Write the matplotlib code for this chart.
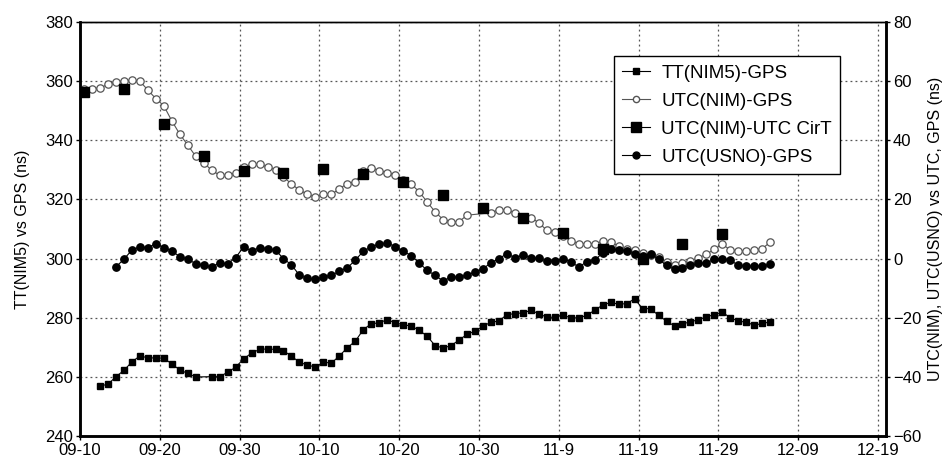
import numpy as np
import matplotlib
matplotlib.use("Agg")
import matplotlib.pyplot as plt

plt.rcParams['font.family'] = ['Liberation Sans', 'DejaVu Sans']

# days counted from 09-10, epochs at noon (+0.5 day)
tick_days = [0, 10, 20, 30, 40, 50, 60, 70, 80, 90, 100]
tick_labels = ['09-10', '09-20', '09-30', '10-10', '10-20', '10-30',
               '11-9', '11-19', '11-29', '12-09', '12-19']

# TT(NIM5)-GPS, left axis (ns)
tt_days = list(range(2, 15)) + list(range(16, 87))
tt_vals = [257.0, 257.5, 260.1, 262.2, 265.1, 267.1, 266.5, 266.4, 266.4, 264.4,
           262.4, 261.2, 260.0,
           260.1, 260.1, 261.6, 263.3, 266.1, 268.1, 269.3, 269.5, 269.3, 268.9,
           267.0, 265.0, 264.0, 263.4, 265.0, 264.7, 267.1, 269.9, 272.1, 276.0,
           278.0, 278.3, 279.4, 278.3, 277.7, 277.2, 275.8, 273.8, 270.6, 269.8,
           270.6, 272.5, 274.4, 275.5, 277.2, 278.5, 278.9, 281.1, 281.4, 281.7,
           282.5, 281.4, 280.2, 280.2, 280.9, 280.0, 280.0, 280.8, 282.6, 284.3,
           285.2, 284.6, 284.8, 286.4, 283.1, 283.1, 280.8, 278.9, 277.2, 278.0,
           278.6, 279.4, 280.3, 281.1, 281.9, 280.0, 278.9, 278.5, 277.5, 278.1,
           278.6]

# UTC(NIM)-GPS, right axis (ns)
nim_days = list(range(0, 49)) + list(range(51, 87))
nim_vals = [57.2, 57.5, 57.7, 58.9, 59.8, 60.1, 60.3, 60.0, 57.0, 54.1,
            51.7, 46.6, 42.1, 38.4, 34.6, 32.4, 29.9, 28.2, 28.2, 29.0,
            31.0, 31.9, 31.9, 31.0, 30.1, 27.7, 25.2, 23.2, 21.8, 20.7,
            21.9, 21.7, 23.6, 25.4, 26.0, 29.6, 30.8, 29.7, 29.1, 28.2,
            26.5, 25.2, 22.6, 19.2, 15.8, 13.2, 12.5, 12.5, 14.7,
            15.5, 16.6, 16.4, 15.5, 13.6, 13.9, 12.1, 9.6, 9.1, 7.6,
            6.1, 5.0, 5.1, 5.1, 5.8, 5.5, 4.3, 3.2, 2.9, 2.0,
            1.2, 0.5, -1.0, -2.0, -1.5, -0.8, 0.3, 1.5, 3.2, 4.9,
            2.9, 2.6, 2.6, 2.9, 3.4, 5.6]

# UTC(NIM)-UTC from Circular T, right axis (ns)
cirt_days = [0, 5, 10, 15, 20, 25, 30, 35, 40, 45, 50, 55, 60, 65, 70, 75, 80]
cirt_vals = [56.4, 57.5, 45.5, 34.8, 29.6, 29.0, 30.3, 28.5, 26.0, 21.5,
             17.2, 13.6, 8.7, 3.4, 0.0, 5.1, 8.5]

# UTC(USNO)-GPS, right axis (ns)
usno_days = list(range(4, 87))
usno_vals = [-2.8, -0.2, 2.9, 4.0, 3.7, 5.1, 3.7, 2.6, 0.7, -0.2,
             -1.7, -2.3, -2.8, -1.4, -1.7, 0.3, 4.0, 2.6, 3.7, 3.4,
             2.9, 0.0, -2.1, -5.6, -6.7, -7.0, -6.2, -5.6, -4.3, -3.1,
             -0.5, 2.5, 4.0, 4.9, 5.4, 4.0, 2.6, 1.0, -1.4, -4.0,
             -5.6, -7.6, -6.2, -6.2, -5.6, -4.5, -3.4, -1.4, 0.0, 1.7,
             0.3, 1.2, 0.3, 0.1, -0.8, -0.8, 0.0, -1.1, -2.8, -1.1,
             -0.6, 2.0, 3.4, 3.0, 2.6, 1.5, 0.9, 1.7, -0.2, -2.3,
             -3.6, -3.1, -2.3, -1.6, -1.4, -0.2, 0.0, -0.5, -2.3, -2.5,
             -2.5, -2.5, -1.9]

fig = plt.figure(figsize=(9.49, 4.63), dpi=100)
ax = fig.add_axes([0.0843, 0.058, 0.8493, 0.8945])
ax2 = ax.twinx()

noon = 0.5
h1, = ax.plot(np.array(tt_days) + noon, tt_vals, color='black', lw=0.8,
              marker='s', ms=4.5, mfc='black', mec='black',
              label='TT(NIM5)-GPS')
h2, = ax2.plot(np.array(nim_days) + noon, nim_vals, color='#555555', lw=0.8,
               marker='o', ms=5.3, mfc='white', mec='#555555', mew=0.9,
               label='UTC(NIM)-GPS')
h3, = ax2.plot(np.array(cirt_days) + noon, cirt_vals, color='black', lw=0.8,
               ls='none', marker='s', ms=7.5, mfc='black', mec='black',
               label='UTC(NIM)-UTC CirT')
h4, = ax2.plot(np.array(usno_days) + noon, usno_vals, color='black', lw=0.8,
               marker='o', ms=5.3, mfc='black', mec='black',
               label='UTC(USNO)-GPS')

# legend handles (drawn with a short line through each marker)
leg_h = [plt.Line2D([], [], color='black', lw=0.8, marker='s', ms=4),
         plt.Line2D([], [], color='#555555', lw=0.8, marker='o', ms=4.5,
                    mfc='white', mec='#555555'),
         plt.Line2D([], [], color='black', lw=0.8, marker='s', ms=7),
         plt.Line2D([], [], color='black', lw=0.8, marker='o', ms=5)]
leg_l = ['TT(NIM5)-GPS', 'UTC(NIM)-GPS', 'UTC(NIM)-UTC CirT', 'UTC(USNO)-GPS']

ax.set_xlim(0, 101)
ax.set_ylim(240, 380)
ax2.set_ylim(-60, 80)
ax.set_xticks(tick_days)
ax.set_xticklabels(tick_labels)
ax.set_yticks(np.arange(240, 381, 20))
ax2.set_yticks(np.arange(-60, 81, 20))
ax2.set_yticklabels([str(v).replace('-', '\u2212') for v in range(-60, 81, 20)])

ax.grid(True, ls=(0, (1.5, 2.5)), color='#555555', lw=0.9)
ax.set_axisbelow(True)

for a in (ax, ax2):
    a.tick_params(labelsize=12, direction='out', length=3, width=1, pad=2)
    for side in ('left', 'right', 'bottom'):
        a.spines[side].set_linewidth(1.8)
    a.spines['top'].set_linewidth(1.0)

ax.set_ylabel('TT(NIM5) vs GPS (ns)', fontsize=11.5, labelpad=11)
ax2.set_ylabel('UTC(NIM), UTC(USNO) vs UTC, GPS (ns)', fontsize=11.5, labelpad=5)

leg = ax2.legend(leg_h, leg_l, loc='upper left', bbox_to_anchor=(0.662, 0.917),
                 fontsize=13.5, fancybox=False, framealpha=1, edgecolor='black',
                 handlelength=1.5, handletextpad=0.6, borderpad=0.45,
                 labelspacing=0.58, borderaxespad=0)
leg.get_frame().set_linewidth(1.0)

fig.savefig('out.png', dpi=100)
